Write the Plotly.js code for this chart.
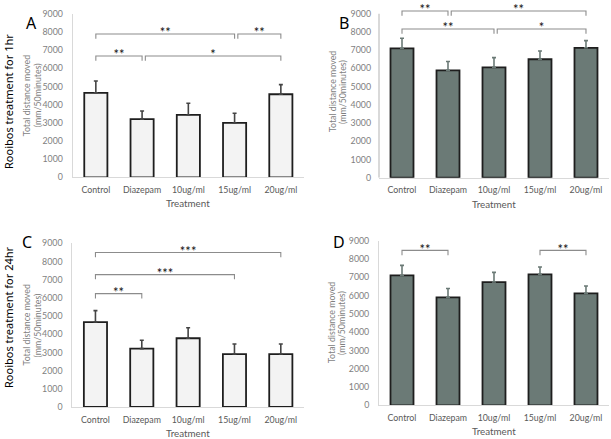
<!DOCTYPE html>
<html>
<head>
<meta charset="utf-8">
<script src="https://cdn.plot.ly/plotly-3.0.1.min.js"></script>
<style>html,body{margin:0;padding:0;background:#fff;}#chart{width:611px;height:439px;}</style>
</head>
<body>
<div id="chart"></div>
<script>
// ---- data ----
const categories = ['Control', 'Diazepam', '10ug/ml', '15ug/ml', '20ug/ml'];

const meanA = [4650, 3200, 3430, 2990, 4570];
const errTopA = [5300, 3650, 4070, 3520, 5100];
const meanB = [7100, 5890, 6060, 6500, 7130];
const errTopB = [7650, 6380, 6590, 6950, 7520];
const meanC = [4670, 3210, 3780, 2910, 2910];
const errTopC = [5300, 3670, 4360, 3460, 3460];
const meanD = [7100, 5900, 6740, 7160, 6120];
const errTopD = [7650, 6390, 7270, 7560, 6520];

const yTickVals = [0, 1000, 2000, 3000, 4000, 5000, 6000, 7000, 8000, 9000];

// significance comparisons: [from, to, level, label]
const sigA = [['Control', '15ug/ml', 7880, '**'], ['15ug/ml', '20ug/ml', 7880, '**'],
              ['Control', 'Diazepam', 6670, '**'], ['Diazepam', '20ug/ml', 6670, '*']];
const sigB = [['Control', 'Diazepam', 9150, '**'], ['Diazepam', '20ug/ml', 9150, '**'],
              ['Control', '10ug/ml', 8160, '**'], ['10ug/ml', '20ug/ml', 8160, '*']];
const sigC = [['Control', '20ug/ml', 8490, '***'], ['Control', '15ug/ml', 7280, '***'],
              ['Control', 'Diazepam', 6230, '**']];
const sigD = [['Control', 'Diazepam', 8470, '**'], ['15ug/ml', '20ug/ml', 8470, '**']];

// ---- drawing ----
const idx = categories.map((c, i) => i);
const FONT = 'Lato, "Noto Sans", sans-serif';
const traces = [];

function addPanel(n, mean, errTop, sig, fill, errColor) {
  const xa = n === 1 ? 'x' : 'x' + n;
  const ya = n === 1 ? 'y' : 'y' + n;
  traces.push({
    type: 'bar', x: idx, y: mean, xaxis: xa, yaxis: ya, width: 0.5,
    marker: {color: fill, line: {color: '#1e1e1e', width: 1.8}},
    error_y: {type: 'data', symmetric: false,
      array: errTop.map((v, i) => v - mean[i]), arrayminus: mean.map(() => 0),
      color: errColor, thickness: 1.6, width: 2},
    hoverinfo: 'skip', showlegend: false
  });
  const drop = 260;
  sig.forEach(s => {
    let a = categories.indexOf(s[0]);
    const b = categories.indexOf(s[1]);
    const shared = sig.some(o => o !== s && o[2] === s[2] && categories.indexOf(o[1]) === a);
    if (shared) a += 0.07;
    traces.push({
      type: 'scatter', mode: 'lines', x: [a, a, b, b],
      y: [s[2] - drop, s[2], s[2], s[2] - drop], xaxis: xa, yaxis: ya,
      line: {color: '#8c8c8c', width: 1.1}, cliponaxis: false,
      hoverinfo: 'skip', showlegend: false
    });
    traces.push({
      type: 'scatter', mode: 'text', x: [(a + b) / 2], y: [s[2]], text: [s[3]],
      textposition: 'middle center', xaxis: xa, yaxis: ya,
      textfont: {family: FONT, size: 13, color: '#111'}, cliponaxis: false,
      hoverinfo: 'skip', showlegend: false
    });
  });
}

addPanel(1, meanA, errTopA, sigA, '#f3f3f3', '#444');
addPanel(2, meanB, errTopB, sigB, '#6b7a76', '#6b7a76');
addPanel(3, meanC, errTopC, sigC, '#f3f3f3', '#444');
addPanel(4, meanD, errTopD, sigD, '#6b7a76', '#6b7a76');

function xAxis(domain, anchor) {
  return {domain: domain, anchor: anchor, range: [-0.5, 4.5], tickvals: idx, ticktext: categories,
    showline: true, linecolor: '#d9d9d9', linewidth: 1, showgrid: false, zeroline: false,
    ticks: '', ticklabelstandoff: 4, tickfont: {family: FONT, size: 8.8, color: '#595959'}, fixedrange: true};
}
function yAxis(domain, anchor, top, line) {
  return {domain: domain, anchor: anchor, range: [0, top], tickvals: yTickVals,
    showline: line, linecolor: '#d9d9d9', linewidth: 1, showgrid: false, zeroline: false,
    ticks: '', ticklabelstandoff: 7, tickfont: {family: FONT, size: 8.8, color: '#7f7f7f'}, fixedrange: true};
}

const annotations = [];
function panelText(n, letter, letterX, letterY, tShift) {
  const xa = n === 1 ? 'x' : 'x' + n;
  const ya = n === 1 ? 'y' : 'y' + n;
  annotations.push({xref: xa + ' domain', yref: ya + ' domain', x: 0.5, y: 0, yanchor: 'middle',
    yshift: -26, showarrow: false, text: 'Treatment', font: {family: FONT, size: 9.8, color: '#595959'}});
  annotations.push({xref: xa + ' domain', yref: ya + ' domain', x: 0, y: 0.5, xanchor: 'center',
    xshift: tShift[0], textangle: -90, showarrow: false, text: 'Total distance moved',
    font: {family: FONT, size: 8.8, color: '#7f7f7f'}});
  annotations.push({xref: xa + ' domain', yref: ya + ' domain', x: 0, y: 0.5, xanchor: 'center',
    xshift: tShift[1], textangle: -90, showarrow: false, text: '(mm/50minutes)',
    font: {family: FONT, size: 8.8, color: '#7f7f7f'}});
  annotations.push({xref: 'paper', yref: 'paper', x: letterX / 611, y: 1 - letterY / 439,
    xanchor: 'center', yanchor: 'middle', showarrow: false, text: letter,
    font: {family: '"Noto Sans", sans-serif', size: 16, color: '#000'}});
}
panelText(1, 'A', 31, 23, [-46, -35]);
panelText(2, 'B', 344, 23, [-47, -37]);
panelText(3, 'C', 27, 242, [-46, -35]);
panelText(4, 'D', 339, 242, [-47, -37]);

annotations.push({xref: 'paper', yref: 'paper', x: 8 / 611, y: 1 - 102 / 439, xanchor: 'center', yanchor: 'middle',
  textangle: -90, showarrow: false, text: 'Rooibos treatment for 1hr',
  font: {family: '"Noto Sans", sans-serif', size: 11, color: '#000'}});
annotations.push({xref: 'paper', yref: 'paper', x: 8 / 611, y: 1 - 317 / 439, xanchor: 'center', yanchor: 'middle',
  textangle: -90, showarrow: false, text: 'Rooibos treatment for 24hr',
  font: {family: '"Noto Sans", sans-serif', size: 11, color: '#000'}});

const layout = {
  width: 611, height: 439, margin: {l: 0, r: 0, t: 0, b: 0},
  paper_bgcolor: '#fff', plot_bgcolor: '#fff', showlegend: false,
  xaxis: xAxis([0.119, 0.4975], 'y'), yaxis: yAxis([0.5961, 0.9688], 'x', 9000, true),
  xaxis2: xAxis([0.6203, 0.9967], 'y2'), yaxis2: yAxis([0.5952, 0.9854], 'x2', 9400, false),
  xaxis3: xAxis([0.1183, 0.4975], 'y3'), yaxis3: yAxis([0.0729, 0.4458], 'x3', 9000, true),
  xaxis4: xAxis([0.6203, 0.9967], 'y4'), yaxis4: yAxis([0.0768, 0.4517], 'x4', 9000, true),
  shapes: [{type: 'line', xref: 'x2 domain', yref: 'y2', x0: 0, x1: 0, y0: 0, y1: 9000,
    line: {color: '#d9d9d9', width: 2}}],
  annotations: annotations
};

Plotly.newPlot('chart', traces, layout, {displayModeBar: false, staticPlot: true});
</script>
</body>
</html>
